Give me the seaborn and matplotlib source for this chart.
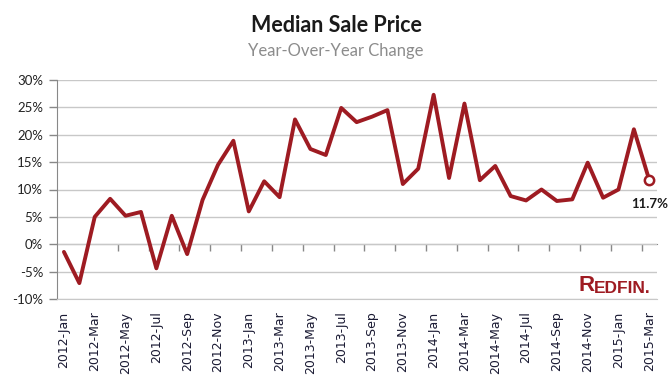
import pandas as pd
import matplotlib.pyplot as plt
import seaborn as sns

months = pd.date_range('2012-01-01', '2015-03-01', freq = 'MS').strftime('%Y-%b').tolist()

yoy_change = [
    -1.4, -7.1, 5.0, 8.3, 5.2, 5.9, -4.4, 5.2, -1.8, 8.1, 14.5, 18.9,
    6.0, 11.5, 8.6, 22.8, 17.4, 16.3, 24.9, 22.3, 23.3, 24.5, 11.0, 13.8,
    27.3, 12.1, 25.7, 11.7, 14.3, 8.8, 8.0, 10.0, 7.9, 8.2, 14.9, 8.5,
    10.0, 21.0, 11.7,
]

df = pd.DataFrame({'month': months, 'change': yoy_change})
df['pos'] = range(len(df))

red = '#9e1b22'

sns.set_style('white')
plt.rcParams['font.family'] = ['DejaVu Sans']

fig = plt.figure(figsize = (6.72, 3.84), dpi = 100)
ax = fig.add_axes([57 / 672, 1 - 299 / 384, 600 / 672, 219 / 384])

sns.lineplot(data = df, x = 'pos', y = 'change', color = red, linewidth = 2.8, ax = ax)

last = df.iloc[[-1]]
sns.scatterplot(data = last, x = 'pos', y = 'change', s = 45, color = 'white',
                edgecolor = red, linewidth = 1.8, zorder = 5, ax = ax)
ax.annotate(f"{last['change'].iloc[0]:.1f}%", (last['pos'].iloc[0], last['change'].iloc[0]),
            xytext = (0, -17), textcoords = 'offset points', ha = 'center', va = 'center',
            fontsize = 9.5, fontweight = 'bold', color = '#1a1a1a', family = 'Lato')

ax.set_xlim(-0.45, len(df) - 0.5)
ax.set_ylim(-10, 30)
ax.set_yticks(range(-10, 31, 5))
ax.set_yticklabels([f'{v}%' for v in range(-10, 31, 5)], family = 'Lato', fontsize = 9.5, color = '#222222')
ax.yaxis.grid(True, color = '#c8c8c8', linewidth = 1)
ax.set_axisbelow(True)

ax.set_xticks(df['pos'][::2])
ax.set_xticklabels(df['month'][::2], rotation = 90, fontsize = 9, color = '#1a1a33')
ax.tick_params(axis = 'x', length = 0, pad = 9)
ax.tick_params(axis = 'y', length = 6, width = 1, color = '#888888', direction = 'out', pad = 4, left = True)
ax.set_xlabel('')
ax.set_ylabel('')

for side in ['top', 'right']:
    ax.spines[side].set_visible(False)
ax.spines['left'].set_color('#888888')
ax.spines['bottom'].set_color('#c8c8c8')

# zero line with tick marks between category pairs
zero = ax.secondary_xaxis(0.25)
zero.set_xticks([p - 0.5 for p in df['pos'][2::2]])
zero.set_xticklabels([])
zero.tick_params(length = 5, width = 1, color = '#888888', direction = 'out')
zero.spines['bottom'].set_color('#888888')

fig.text(0.5, 1 - 25 / 384, 'Median Sale Price', ha = 'center', va = 'center',
         fontsize = 15.5, fontweight = 'bold', color = '#1a1a1a', family = 'Lato')
fig.text(0.5, 1 - 51 / 384, 'Year-Over-Year Change', ha = 'center', va = 'center',
         fontsize = 12, color = '#8c8c8c', family = 'Lato')

r = fig.text(578 / 672, 1 - 296 / 384, 'R', ha = 'left', va = 'bottom',
             fontsize = 16, fontweight = 'bold', color = red, family = 'Liberation Sans')
ax.annotate('EDFIN.', xy = (1, 0), xycoords = r, ha = 'left', va = 'bottom',
            fontsize = 12.5, fontweight = 'bold', color = red, family = 'Liberation Sans')

fig.savefig('out.png', dpi = 100)
